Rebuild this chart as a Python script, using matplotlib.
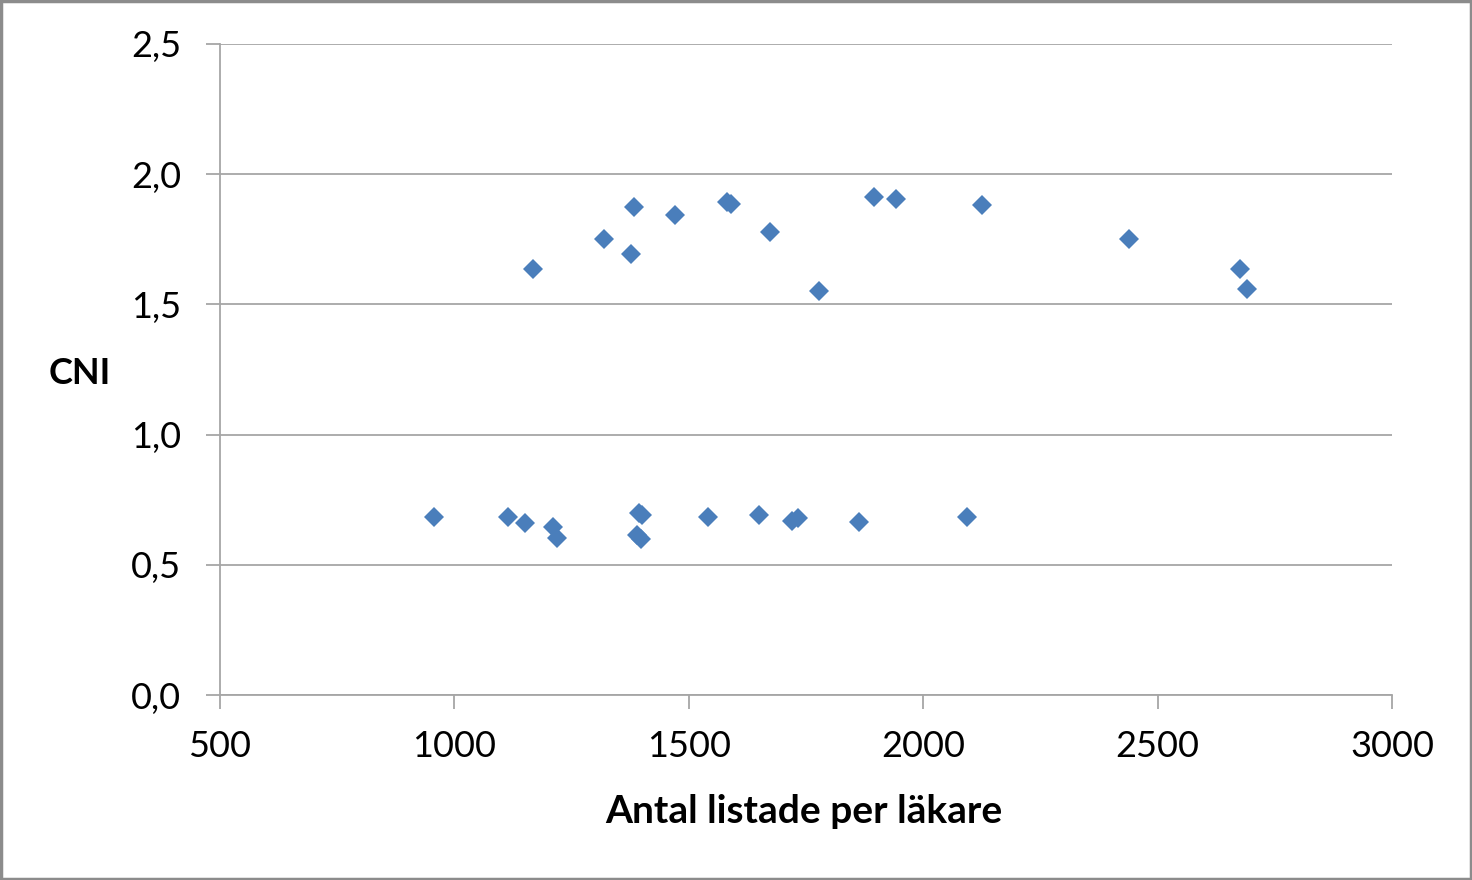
import matplotlib
matplotlib.use("Agg")
import matplotlib.pyplot as plt
from matplotlib.patches import Rectangle
from matplotlib.ticker import FuncFormatter

plt.rcParams['font.family'] = ['Lato', 'DejaVu Sans']

# listed patients per doctor vs. CNI, two clusters
listade_hog = [1168, 1319, 1384, 1376, 1470, 1581, 1591, 1674, 1778,
               1894, 1943, 2126, 2439, 2676, 2690]
cni_hog = [1.635, 1.751, 1.874, 1.694, 1.842, 1.893, 1.886, 1.778, 1.553,
           1.914, 1.906, 1.881, 1.751, 1.636, 1.559]

listade_lag = [956, 1114, 1151, 1211, 1218, 1394, 1400, 1390, 1398,
               1542, 1650, 1720, 1734, 1862, 2094]
cni_lag = [0.685, 0.685, 0.659, 0.644, 0.604, 0.700, 0.690, 0.615, 0.600,
           0.685, 0.691, 0.669, 0.681, 0.663, 0.685]

x_ticks = [500, 1000, 1500, 2000, 2500, 3000]
y_ticks = [0.0, 0.5, 1.0, 1.5, 2.0, 2.5]

blue = '#4a7ebb'
grid_col = '#a6a6a6'
fs = 26

fig = plt.figure(figsize=(14.72, 8.8), dpi=100)
ax = fig.add_axes([220 / 1472, 1 - 695 / 880, 1172 / 1472, 651 / 880])

ax.plot(listade_hog + listade_lag, cni_hog + cni_lag, linestyle='none',
        marker='D', markersize=9.8, color=blue, markeredgewidth=0, zorder=3)

ax.set_xlim(x_ticks[0], x_ticks[-1])
ax.set_ylim(y_ticks[0], y_ticks[-1])
ax.set_xticks(x_ticks)
ax.set_yticks(y_ticks)
ax.yaxis.set_major_formatter(FuncFormatter(lambda v, p: f"{v:.1f}".replace('.', ',')))

ax.grid(axis='y', color=grid_col, linewidth=1.3, zorder=0)
for side in ('top', 'right'):
    ax.spines[side].set_visible(False)
for side in ('left', 'bottom'):
    ax.spines[side].set_color(grid_col)
    ax.spines[side].set_linewidth(1.3)

ax.tick_params(axis='both', colors=grid_col, labelcolor='black',
               labelsize=fs, length=10, width=1.3, direction='out')
ax.tick_params(axis='y', pad=18)
ax.tick_params(axis='x', pad=15)

fig.text(80 / 1472, 1 - 373 / 880, 'CNI', fontsize=fs, fontweight='bold',
         ha='center', va='center')
fig.text(804 / 1472, 1 - 811 / 880, 'Antal listade per läkare', fontsize=28,
         fontweight='bold', ha='center', va='center')

# outer frame around the whole chart
fig.patches.append(Rectangle((0.001, 0.001), 0.998, 0.998, transform=fig.transFigure,
                             fill=False, edgecolor='#8c8c8c', linewidth=2.5))

fig.savefig('out.png', dpi=100)
